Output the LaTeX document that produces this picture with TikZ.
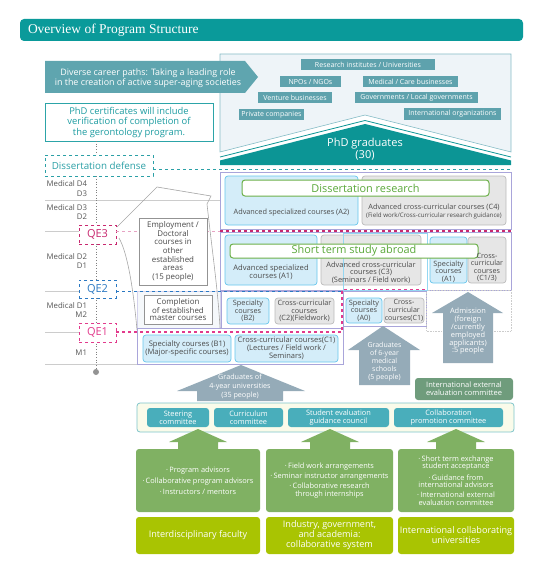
\documentclass[tikz,border=0pt]{standalone}
\usepackage{fontspec}
\setmainfont{Open Sans}
\newfontfamily\titlefont{Liberation Serif}
\newcommand\fsz[2]{\fontsize{#1}{#2}\selectfont}
\newcommand\bx[7]{\node[#2, minimum width={#5-#3}, minimum height={#6-#4}] (#1) at ({(#3+#5)/2},{(#4+#6)/2}) {#7};}
\definecolor{titleC}{HTML}{0A9A9A}
\definecolor{arrC}{HTML}{5FA5AF}
\definecolor{tagC}{HTML}{5EA2AD}
\definecolor{careerF}{HTML}{EEF4F8}
\definecolor{careerB}{HTML}{86BCC6}
\definecolor{phdC}{HTML}{0C9595}
\definecolor{certB}{HTML}{2CA4A8}
\definecolor{certT}{HTML}{1E9DA2}
\definecolor{ddC}{HTML}{2BA0A6}
\definecolor{qeM}{HTML}{C8286F}
\definecolor{qeL}{HTML}{E7A3C3}
\definecolor{qeP}{HTML}{E23A8C}
\definecolor{qeB}{HTML}{2A78C2}
\definecolor{lavC}{HTML}{A9A5DA}
\definecolor{lbF}{HTML}{D4EDF9}
\definecolor{lbB}{HTML}{66C6EC}
\definecolor{gF}{HTML}{E6E6E6}
\definecolor{gB}{HTML}{BBBBBB}
\definecolor{txt}{HTML}{4A4A4A}
\definecolor{grnB}{HTML}{6DB04A}
\definecolor{grnT}{HTML}{5AA83A}
\definecolor{garr}{HTML}{95ABB8}
\definecolor{iecC}{HTML}{6F9C7C}
\definecolor{stripF}{HTML}{FAFBEA}
\definecolor{stripB}{HTML}{7DC4CA}
\definecolor{comC}{HTML}{49AEBB}
\definecolor{grC}{HTML}{80B163}
\definecolor{limeC}{HTML}{A9C402}
\definecolor{hl}{HTML}{CCCCCC}
\definecolor{lab}{HTML}{555555}
\tikzset{
  every node/.style={inner sep=0pt, outer sep=0pt},
  tag/.style={fill=tagC, text=white, font=\fsz{7}{8}},
  lb/.style={draw=lbB, fill=lbF, rounded corners=3, line width=0.7, text=txt, align=center, font=\fsz{7.3}{7.6}},
  gb/.style={draw=gB, fill=gF, rounded corners=3, line width=0.7, text=txt, align=center, font=\fsz{7.3}{7.6}},
  greenbox/.style={draw=grnB, fill=white, rounded corners=3, line width=1, text=grnT, font=\fsz{10.9}{12}},
  ctext/.style={text=txt, align=center, font=\fsz{7.3}{7.6}},
  empbox/.style={draw=gray!85, fill=white, line width=1, text=txt, align=center, font=\fsz{7.9}{8.6}},
  qebox/.style={dashed, fill=white, line width=1, font=\fsz{11}{12}},
  lav/.style={draw=lavC, line width=0.8},
  hline/.style={draw=hl, line width=0.5},
  lab/.style={text=lab, anchor=east, font=\fsz{7.8}{8}},
  garrtext/.style={text=white, align=center, font=\fsz{7}{8}},
  comm/.style={fill=comC, rounded corners=3, text=white, align=center, font=\fsz{7.4}{7.8}},
  grbox/.style={fill=grC, rounded corners=3, text=white, align=center, font=\fsz{7.4}{8.2}},
  limebox/.style={fill=limeC, rounded corners=3, text=white, align=center, font=\fsz{9.1}{10}},
}
\begin{document}
\begin{tikzpicture}[x=1pt,y=-1pt]
\useasboundingbox (0,0) rectangle (544,575);
% title
\bx{titlebar}{fill=titleC, rounded corners=4}{20}{19}{523}{41}{}
\node[anchor=west, text=white, font=\titlefont\fsz{13.5}{15}] (title) at (28,30.5) {Overview of Program Structure};
% career area
\filldraw[fill=careerF, draw=careerB, line width=0.6] (220,54) -- (511,54) -- (511,152) -- (365,115) -- (220,152) -- cycle;
\draw[phdC, line width=0.8] (220,157) -- (365,120.5) -- (511,157);
\fill[phdC] (220,160.5) -- (365,124) -- (511,160.5) -- (511,165) -- (220,165) -- cycle;
\node[text=white, font=\fsz{11}{12}, align=center] (phd) at (365,149.5) {PhD graduates\\(30)};
\fill[arrC] (45,61) -- (245,61) -- (258,77) -- (245,93) -- (45,93) -- cycle;
\node[text=white, font=\fsz{8.9}{10.6}, align=center] (career) at (148,78) {Diverse career paths: Taking a leading role\\in the creation of active super-aging societies};
\bx{t1}{tag}{301}{59}{435}{70}{Research institutes / Universities}
\bx{t2}{tag}{280}{76}{341}{87}{NPOs / NGOs}
\bx{t3}{tag}{363}{76}{458}{87}{Medical / Care businesses}
\bx{t4}{tag}{258}{92}{332}{103}{Venture businesses}
\bx{t5}{tag}{355}{92}{478}{103}{Governments / Local governments}
\bx{t6}{tag}{239}{109}{304}{120}{Private companies}
\bx{t7}{tag}{404}{108}{501}{120}{International organizations}
% certificate
\bx{cert}{draw=certB, line width=1, fill=white, text=certT, align=center, font=\fsz{9.4}{10.5}}{45}{104}{213}{141}{PhD certificates will include\\verification of completion of\\the gerontology program.}
% background regions
\fill[careerF!60] (137,291) rectangle (220,328);
\draw[lavC!50, line width=0.5] (137,291) rectangle (220,328);
\draw[lav] (220,172) rectangle (511,229);
\draw[lav] (220,232) rectangle (511,290);
\draw[lav] (221,291) rectangle (343,328);
\draw[lav] (137,328) rectangle (343,364);
\draw[lav] (343,291) rectangle (426,326);
\draw[hl, densely dotted, line width=0.6] (426,290) rectangle (511,331);
% grey level lines
\draw[hline] (45,200) -- (220,200);
\draw[hline] (45,231) -- (79,231);
\draw[hline] (45,291) -- (79,291);
\draw[hline] (45,332) -- (79,332);
\draw[hline] (45,364) -- (137,364);
% dotted timeline
\coordinate (dot) at (96,372);
\draw[gray, dotted, line width=0.7] (cert.south -| dot) -- (dot);
\fill[gray!85] (dot) circle (3);
% employment outline
\draw[gray!70, line width=0.6] (137,330) .. controls (133,285) and (127,252) .. (119,238);
\draw[gray!70, line width=0.6] (117,227) -- (157,187) -- (211,196) -- (207,204) .. controls (212,250) and (218,290) .. (220,328);
% dissertation defense
\bx{dd}{dashed, draw=ddC, fill=white, line width=1, text=ddC, font=\fsz{9.8}{10}}{45}{155}{153}{176}{Dissertation defense}
\coordinate (ddr) at (511,169);
\draw[ddC, dashed, line width=1] (dd.east |- ddr) -- (ddr);
% QE boxes
\bx{qe3}{qebox, draw=qeM, text=qeM}{79}{225}{116}{244}{QE3}
\bx{qe2}{qebox, draw=qeB, text=qeB}{79}{280}{116}{298}{QE2}
\bx{qe1}{qebox, draw=qeP, text=qeP}{79}{323}{116}{342}{QE1}
\coordinate (q3m) at (220,231);
\coordinate (q3r) at (511,231);
\draw[qeL, dashed, line width=0.9] (qe3.east |- q3m) -- (q3m);
\draw[qeM, dashed, line width=1.1] (q3m) -- (q3r);
\coordinate (q2r) at (342,291);
\draw[qeB, dashed, line width=0.9] (qe2.east |- q2r) -- (q2r);
\coordinate (q1a) at (342,332);
\coordinate (q1b) at (342,290);
\coordinate (q1c) at (426,290);
\draw[qeP, dashed, line width=1.1] (qe1.east |- q1a) -- (q1a) -- (q1b) -- (q1c);
% left labels
\node[lab] (md4) at (87,184) {Medical D4};
\node[lab] (d3a) at (87,194) {D3};
\node[lab] (md3) at (87,208) {Medical D3};
\node[lab] (d2a) at (87,217) {D2};
\node[lab] (md2) at (87,257) {Medical D2};
\node[lab] (d1a) at (87,266) {D1};
\node[lab] (md1) at (87,306) {Medical D1};
\node[lab] (m2a) at (87,315) {M2};
\node[lab] (m1a) at (87,353) {M1};
% employment / completion
\bx{emp}{empbox}{139}{218}{207}{285}{Employment /\\Doctoral\\courses in\\other\\established\\areas\\(15 people)}
\bx{comp}{empbox, font=\fsz{7.9}{7.7}}{144}{295}{212}{324}{Completion\\of established\\master courses}
% row A
\bx{a2}{lb}{225}{176}{358}{225}{}
\bx{c4}{gb}{362}{176}{506}{225}{}
\bx{dr}{greenbox}{242}{180}{489}{196}{Dissertation research}
\node[ctext] (a2t) at (291.5,213) {Advanced specialized courses (A2)};
\node[ctext, font=\fsz{7.3}{8}] (c4t) at (434,211.5) {Advanced cross-curricular courses (C4)\\{\fsz{6.2}{7}(Field work/Cross-curricular research guidance)}};
% row B
\bx{a1}{lb}{225}{235}{317}{285}{}
\bx{c3}{gb}{321}{235}{421}{285}{}
\draw[lbB!70, line width=0.6] (343,233) rectangle (427,290);
\bx{sa1}{lb}{430}{237}{467}{283}{}
\bx{c13}{gb}{468}{237}{506}{283}{}
\bx{st}{greenbox}{230}{244}{478}{258}{Short term study abroad}
\node[ctext, font=\fsz{7.6}{8.4}] (a1t) at (271,272) {Advanced specialized\\courses (A1)};
\node[ctext, font=\fsz{7.4}{7.6}] (c3t) at (371,272.5) {Advanced cross-curricular\\courses (C3)\\(Seminars / Field work)};
\node[ctext] (sa1t) at (448.5,271.5) {Specialty\\courses\\(A1)};
\node[ctext, font=\fsz{7.2}{7.1}] (c13t) at (487,267.5) {Cross-\\curricular\\courses\\(C1/3)};
% row C
\bx{b2}{lb}{227}{298}{269}{324}{Specialty\\courses\\(B2)}
\bx{c2}{gb}{275}{298}{334}{324}{Cross-curricular\\courses\\(C2)(Fieldwork)}
\bx{a0}{lb}{346}{298}{382}{323}{Specialty\\courses\\(A0)}
\bx{c1m}{gb, font=\fsz{7.1}{7.6}}{384}{298}{424}{323}{Cross-\\curricular\\courses(C1)}
% row D
\bx{b1}{lb, font=\fsz{7.6}{8}}{143}{335}{231}{362}{Specialty courses (B1)\\(Major-specific courses)}
\bx{c1}{lb, font=\fsz{7.5}{7.8}}{235}{335}{338}{362}{Cross-curricular courses(C1)\\(Lectures / Field work /\\Seminars)}
% grey arrows
\fill[garr] (241,365) -- (305,391) -- (283,391) -- (283,401) -- (197,401) -- (197,391) -- (177,391) -- cycle;
\node[garrtext, font=\fsz{7.2}{9}] (g4) at (240,387) {Graduates of\\4-year universities\\(35 people)};
\fill[garr] (383,326) -- (420,350) -- (410,350) -- (410,385) -- (359,385) -- (359,350) -- (348,350) -- cycle;
\node[garrtext] (g6) at (384.5,362) {Graduates\\of 6-year\\medical\\schools\\(5 people)};
\fill[garr] (468,292) -- (503,313) -- (493,313) -- (493,363) -- (443,363) -- (443,313) -- (432,313) -- cycle;
\node[garrtext, font=\fsz{7.4}{7.8}] (adm) at (468,331.5) {Admission\\(foreign\\/currently\\employed\\applicants)\\:5 people};
% international evaluation committee
\bx{iec}{fill=iecC, rounded corners=3, text=white, align=center, font=\fsz{7.5}{8}}{415}{378}{513}{400}{International external\\evaluation committee}
% committee strip
\bx{strip}{fill=stripF, draw=stripB, line width=0.8, rounded corners=3}{137}{403}{514}{432}{}
\bx{steer}{comm}{147}{408}{209}{427}{Steering\\committee}
\bx{curr}{comm}{214}{408}{283}{427}{Curriculum\\committee}
\bx{stud}{comm}{288}{408}{389}{427}{Student evaluation\\guidance council}
\bx{coll}{comm}{394}{408}{503}{427}{Collaboration\\promotion committee}
% green arrows
\foreach \cx in {198,330,456} {
  \fill[grC] (\cx,429) -- (\cx+29,442) -- (\cx+20,442) -- (\cx+20,450) -- (\cx-20,450) -- (\cx-20,442) -- (\cx-29,442) -- cycle;
}
% green boxes
\bx{gb1}{grbox}{136}{449}{260}{512}{·\,Program advisors\\[3pt]·\,Collaborative program advisors\\[3pt]·\,Instructors / mentors}
\bx{gb2}{grbox}{266}{449}{393}{512}{·\,Field work arrangements\\[2pt]·\,Seminar instructor arrangements\\[2pt]·\,Collaborative research\\through internships}
\bx{gb3}{grbox, font=\fsz{7.4}{7.4}}{398}{449}{514}{512}{·\,Short term exchange\\student acceptance\\[3pt]·\,Guidance from\\international advisors\\[3pt]·\,International external\\evaluation committee}
% lime boxes
\bx{lm1}{limebox}{136}{517}{260}{554}{Interdisciplinary faculty}
\bx{lm2}{limebox}{266}{517}{393}{554}{Industry, government,\\and academia:\\collaborative system}
\bx{lm3}{limebox}{398}{517}{514}{554}{International collaborating\\universities}
\end{tikzpicture}
\end{document}
